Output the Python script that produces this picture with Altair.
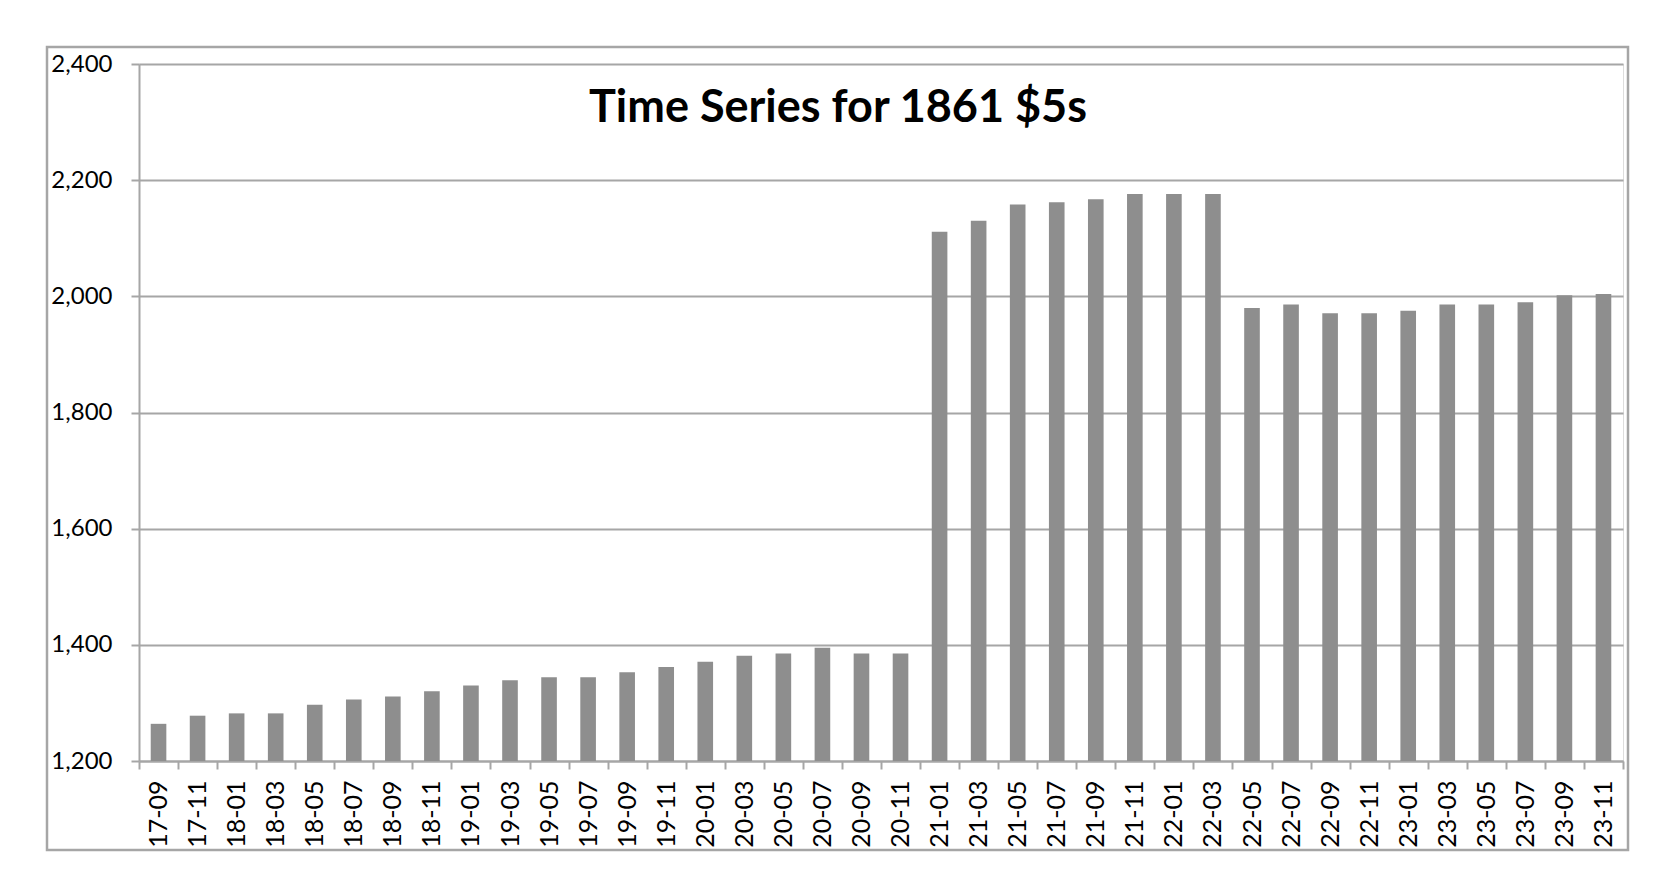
import altair as alt
import pandas as pd

TITLE = "Time Series for 1861 $5s"

months = [
    "17-09", "17-11",
    "18-01", "18-03", "18-05", "18-07", "18-09", "18-11",
    "19-01", "19-03", "19-05", "19-07", "19-09", "19-11",
    "20-01", "20-03", "20-05", "20-07", "20-09", "20-11",
    "21-01", "21-03", "21-05", "21-07", "21-09", "21-11",
    "22-01", "22-03", "22-05", "22-07", "22-09", "22-11",
    "23-01", "23-03", "23-05", "23-07", "23-09", "23-11",
]
values = [
    1264, 1278,
    1282, 1282, 1297, 1306, 1311, 1320,
    1330, 1339, 1344, 1344, 1353, 1362,
    1371, 1381, 1385, 1395, 1385, 1385,
    2111, 2130, 2158, 2162, 2167, 2176,
    2176, 2176, 1980, 1986, 1971, 1971,
    1975, 1986, 1986, 1990, 2002, 2004,
]
y_ticks = [1200, 1400, 1600, 1800, 2000, 2200, 2400]

df = pd.DataFrame({"month": months, "value": values})

GRID = "#a6a6a6"
BAR = "#8e8e8e"
FONT = "Lato"

W, H = 1484, 697

bars = alt.Chart(df).mark_bar(
    color=BAR, width=alt.RelativeBandSize(0.4)
).encode(
    x=alt.X(
        "month:N", sort=months, title=None,
        scale=alt.Scale(paddingInner=0, paddingOuter=0),
        axis=alt.Axis(
            labelAngle=270, labelFont=FONT, labelFontSize=25, labelColor="black",
            labelPadding=11, tickBand="extent", ticks=True, tickSize=8,
            tickColor=GRID, tickWidth=2, domainColor=GRID, domainWidth=2,
            grid=False, labelOverlap=False,
        ),
    ),
    y=alt.Y(
        "value:Q", title=None,
        scale=alt.Scale(domain=[1200, 2400], zero=False, nice=False),
        axis=alt.Axis(
            values=y_ticks, format=",.0f", labelFont=FONT, labelFontSize=24,
            labelColor="black", labelPadding=19, tickSize=8, tickColor=GRID,
            tickWidth=2, domainColor=GRID, domainWidth=2, grid=True,
            gridColor=GRID, gridWidth=2,
        ),
    ),
    y2=alt.datum(1200),
)

title = alt.Chart(pd.DataFrame({"t": [TITLE]})).mark_text(
    font=FONT, fontSize=45, fontWeight="bold", color="black",
    align="center", baseline="alphabetic",
).encode(text="t:N", x=alt.value(699), y=alt.value(58))

frame = alt.Chart(pd.DataFrame({"t": [TITLE]})).mark_rect(
    fill=None, fillOpacity=0, stroke=GRID, strokeWidth=2.5,
).encode(
    x=alt.value(-92), x2=alt.value(1489), y=alt.value(-17), y2=alt.value(786)
)

chart = alt.layer(frame, bars, title).properties(
    width=W, height=H,
    autosize=alt.AutoSizeParams(type="none"),
    padding={"left": 131, "top": 56, "right": 47, "bottom": 115},
).configure_view(stroke=None).configure(background="white")

chart.save("out.html", embed_options={"renderer": "svg", "actions": False})
